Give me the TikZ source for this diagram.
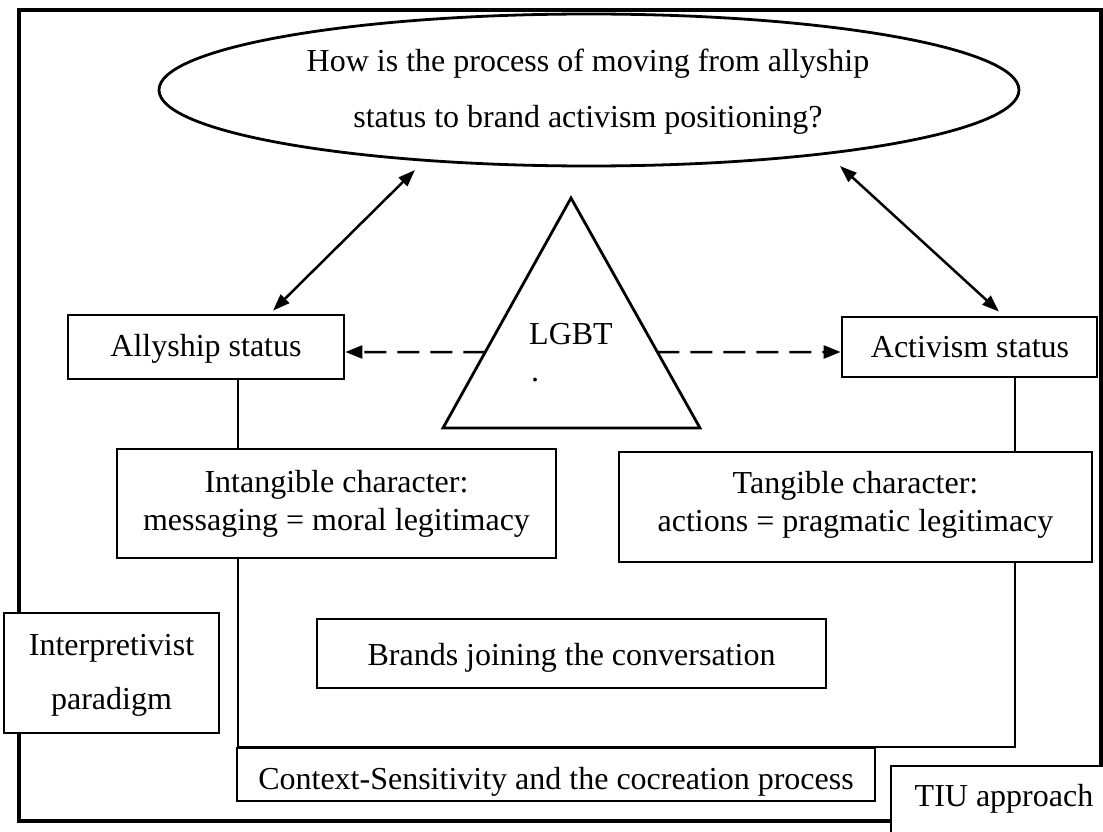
\documentclass[tikz,border=0pt]{standalone}
\usepackage{fontspec}
\setmainfont{Liberation Serif}
\usetikzlibrary{shapes.geometric,arrows.meta,calc}
\begin{document}
\begin{tikzpicture}[x=1pt,y=-1pt,
  frame/.style={line width=3.4pt},
  box/.style={draw, line width=2.8pt, fill=white, rectangle, inner sep=0pt},
  txt/.style={anchor=base, inner sep=0pt, font=\fontsize{32}{38}\selectfont},
  link/.style={line width=1.4pt},
  dbl/.style={line width=2.5pt, {Triangle[length=17pt,width=12pt]}-{Triangle[length=17pt,width=12pt]}},
  dsh/.style={line width=2.5pt, dash pattern=on 22pt off 11pt, -{Triangle[length=17pt,width=13pt]}}]

% page and background
\useasboundingbox (0,0) rectangle (1103,832);
\fill[white] (0,0) rectangle (1103,832);

% outer frame
\draw[frame] (19,10) rectangle (1101,821);

% junction points of the thin connecting lines
\coordinate (cl) at (238,747);
\coordinate (cr) at (1015,747);

% boxes
\node[box, minimum width=276pt, minimum height=64pt] (ally) at (206,347) {};
\node[box, minimum width=255pt, minimum height=60pt] (act) at (969.5,347) {};
\node[box, minimum width=439pt, minimum height=109pt] (intang) at (336.5,503.5) {};
\node[box, minimum width=473pt, minimum height=110pt] (tang) at (855.5,507) {};

% thin connecting lines
\draw[link] (ally.south -| cl) -- (intang.north -| cl);
\draw[link] (act.south -| cr) -- (tang.north -| cr);
\draw[link] (intang.south -| cl) -- (cl) -- (cr) -- (tang.south -| cr);

\node[box, minimum width=215pt, minimum height=120pt] (interp) at (111.5,673) {};
\node[box, minimum width=509pt, minimum height=69pt] (brands) at (571.5,653.5) {};
\node[box, minimum width=638pt, minimum height=53pt] (context) at (556,774.5) {};
\node[box, minimum width=224pt, minimum height=84pt] (tiu) at (1003,808) {};

% research question
\node[draw, ellipse, line width=2.8pt, fill=white, minimum width=860pt, minimum height=152pt, inner sep=0pt] (q) at (589,90) {};
\node[txt] (q1) at (588,72) {How is the process of moving from allyship};
\node[txt] (q2) at (588,128) {status to brand activism positioning?};

% central triangle
\coordinate (tA) at (571,198);
\coordinate (tL) at (443,428);
\coordinate (tR) at (700,428);
\draw[line width=2.8pt, fill=white] (tA) -- (tR) -- (tL) -- cycle;
\node[txt] (lgbt) at (571,344) {LGBT};
\node[txt] (dot) at (535,381) {.};

% box texts
\node[txt] (allyT) at (206,356) {Allyship status};
\node[txt] (actT) at (970,357) {Activism status};
\node[txt] (intT1) at (336.5,492) {Intangible character:};
\node[txt] (intT2) at (336.5,530) {messaging = moral legitimacy};
\node[txt] (tangT1) at (855.5,493) {Tangible character:};
\node[txt] (tangT2) at (855.5,531) {actions = pragmatic legitimacy};
\node[txt] (interpT1) at (111.5,655) {Interpretivist};
\node[txt] (interpT2) at (111.5,709) {paradigm};
\node[txt] (brandsT) at (571.5,665) {Brands joining the conversation};
\node[txt] (contextT) at (556,789) {Context-Sensitivity and the cocreation process};
\node[txt] (tiuT) at (1004,806) {TIU approach};

% arrows
\coordinate (qL) at (415,170);
\coordinate (qR) at (840,166);
\draw[dbl] (qL) -- ([xshift=67pt,yshift=3pt]ally.north);
\draw[dbl] (qR) -- ([xshift=29.5pt,yshift=4pt]act.north);
\draw[dsh] ($(tA)!0.6696!(tL)$) -- ([yshift=-5pt]ally.east);
\draw[dsh] ($(tA)!0.6696!(tR)$) -- ([yshift=-5pt]act.west);
\end{tikzpicture}
\end{document}
